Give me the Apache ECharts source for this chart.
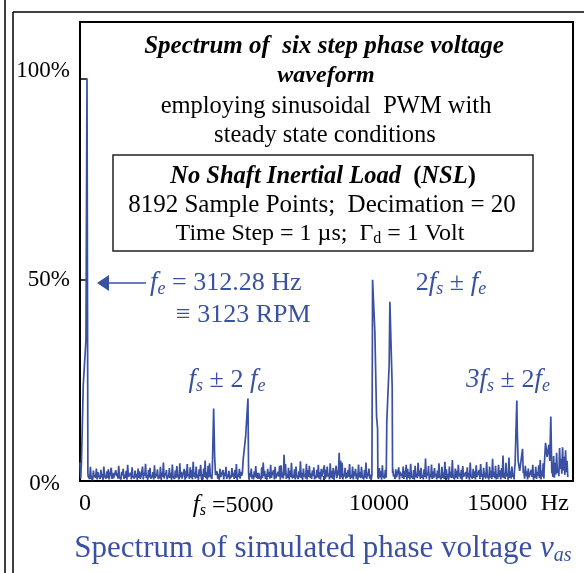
<!DOCTYPE html>
<html>
<head>
<meta charset="utf-8">
<script src="https://cdn.jsdelivr.net/npm/echarts@6/dist/echarts.min.js"></script>
<style>
  html, body { margin: 0; padding: 0; background: #fff; }
  #chart { width: 584px; height: 573px; }
</style>
</head>
<body>
<div id="chart"></div>
<script>
// 频谱数据 (Hz, %)
const NOISE_STEP = 50;
// 噪声峰 (频率 i*50 Hz)
const NOISE = [
  4.6,5.2,3.0,2.5,1.8,2.0,1.2,3.5,0.8,2.6,1.5,3.1,2.2,0.9,2.8,1.7,3.6,1.1,2.4,2.9,
  1.3,3.3,2.0,0.7,2.7,1.9,3.8,1.0,2.3,3.0,1.6,2.5,4.0,1.2,2.1,3.4,0.9,2.6,1.8,3.1,
  2.4,1.1,3.6,2.0,4.3,1.5,2.8,3.3,0.8,2.2,3.9,1.7,2.9,1.3,3.5,2.1,4.6,1.9,2.7,1.4,
  3.2,2.0,4.1,1.2,2.6,3.7,1.6,4.4,2.3,1.0,3.0,2.5,4.2,1.8,3.4,2.7,4.8,2.1,3.6,1.5,
  2.9,4.0,1.7,3.1,5.1,2.2,3.8,4.4,1.5,2.0,3.3,1.0,2.4,1.8,3.0,1.2,2.7,2.1,3.5,1.6,
  2.5,1.4,3.2,2.0,2.8,4.2,1.7,3.0,2.3,3.9,5.0,3.5,1.2,2.6,2.0,3.1,1.5,2.4,3.7,2.0,
  2.0,1.3,3.4,4.6,2.5,1.8,3.0,2.2,4.0,1.6,2.7,3.5,1.1,2.3,3.8,3.9,2.1,6.5,4.2,1.7,
  3.3,2.5,4.5,1.4,2.9,3.6,1.2,2.4,4.9,2.0,3.1,1.6,4.3,2.7,3.8,1.9,2.6,3.4,1.3,2.8,
  4.0,2.2,3.0,1.5,3.9,2.8,3.6,1.8,4.4,2.5,3.2,1.4,3.8,2.6,7.0,5.0,4.5,1.7,3.3,2.1,
  2.8,4.2,1.5,3.6,2.4,3.0,1.9,4.1,2.2,3.5,1.3,2.7,4.6,2.0,3.1,1.6,2.9,3.8,2.4,1.8,
  1.8,3.2,2.4,3.9,1.6,2.8,3.4,1.2,2.1,2.7,3.0,1.6,2.9,1.2,3.4,2.3,1.8,3.6,2.5,4.0,
  3.0,2.2,4.3,1.5,2.7,3.8,1.9,4.5,2.6,3.3,1.4,2.9,5.6,2.0,3.7,1.6,4.1,2.4,3.2,1.8,
  2.6,4.4,1.3,3.5,2.1,4.8,2.9,1.7,3.6,2.3,5.2,1.5,3.1,2.5,4.0,1.9,2.8,3.7,1.4,2.2,
  3.4,2.0,4.6,1.6,3.0,2.4,3.9,1.2,2.7,4.2,1.8,3.3,2.1,4.7,1.5,3.6,2.5,5.5,2.2,3.8,
  1.7,4.0,2.6,3.2,6.3,2.0,4.5,1.9,5.8,2.4,3.6,1.8,2.9,4.1,2.2,3.0,1.6,3.4,2.5,3.8,
  2.4,3.1,1.3,2.8,4.0,1.8,3.5,2.3,3.9,5.2,2.6,4.4,3.0,1.9,3.2,2.2,3.6,2.8,6.2,4.5,
  7.0,3.0,8.2,5.5,8.4,6.0,7.6,5.0
];
// 噪声谷 (频率 i*50+25 Hz)
const NOISE_LOW = [
  0.6,1.2,0.4,0.9,0.3,1.1,0.5,0.8,0.2,1.0,0.7,0.4,1.3,0.5,0.9,0.3,1.1,0.6,0.8,0.4,
  1.0,0.5,0.7,0.3,1.2,0.6,0.9,0.4,1.4,0.5,0.8,0.3,1.0,0.7,0.4,1.1,0.6,0.9,0.3,0.8,
  0.5,1.0,0.4,1.3,0.7,0.3,0.9,0.6,1.1,0.4,0.8,1.2,0.5,0.7,0.3,1.0,0.6,1.4,0.4,0.9,
  0.7,0.3,1.1,0.5,0.8,1.3,0.4,0.9,0.6,1.0,0.3,0.7,1.2,0.5,0.8,0.4,1.1,0.6,0.9,0.3,
  1.2,0.6,0.4,1.0,0.7,0.3,0.9,1.4,0.5,0.8,0.4,1.1,0.6,0.3,1.0,0.7,0.4,1.2,0.5,0.9,
  0.4,0.8,1.1,0.5,0.7,0.3,1.0,0.6,1.3,0.4,0.9,0.5,0.8,0.3,1.1,0.6,0.4,1.0,0.7,0.5,
  0.9,0.4,0.7,1.2,0.5,0.3,1.0,0.6,0.8,1.3,0.4,0.7,0.5,1.1,0.3,0.9,0.6,1.4,0.5,0.8,
  0.3,1.0,0.6,0.8,0.4,1.2,0.5,0.9,0.7,0.3,1.1,0.6,0.4,1.0,0.8,0.5,1.3,0.4,0.7,0.9,
  0.6,0.3,1.1,0.7,0.5,0.9,1.2,0.4,0.8,0.6,0.3,1.0,0.7,1.4,0.5,0.9,0.4,1.1,0.6,0.8,
  1.0,0.5,0.8,0.4,1.3,0.6,0.3,0.9,0.7,1.1,0.4,0.8,0.5,1.2,0.6,0.3,1.0,0.7,0.4,0.9,
  0.5,0.9,0.3,1.2,0.6,0.8,0.4,1.0,0.7,0.3,1.1,0.5,0.9,0.6,0.4,1.3,0.7,0.5,1.0,0.3,
  0.8,0.4,1.1,0.6,0.3,0.9,0.7,1.2,0.5,0.8,0.4,1.0,0.6,1.4,0.3,0.9,0.5,0.7,1.1,0.4,
  0.7,1.0,0.4,0.8,0.5,1.3,0.6,0.3,0.9,0.7,1.1,0.4,0.8,0.5,1.2,0.6,0.3,1.0,0.7,0.5,
  0.9,0.3,1.2,0.6,0.8,0.4,1.0,0.7,0.5,1.1,0.3,0.9,0.6,1.3,0.4,0.8,0.5,1.0,0.7,0.4,
  0.6,1.1,0.4,0.9,0.7,0.5,1.2,0.3,0.8,0.6,1.0,0.4,0.7,1.1,0.5,0.9,0.3,0.8,0.6,1.2,
  0.4,0.9,0.6,1.0,0.3,0.8,0.5,1.2,0.7,0.4,1.1,0.6,0.9,0.5,1.3,0.7,0.4,1.0,0.8,1.6,
  2.0,1.2,3.0,1.8,2.6,1.5,2.2,1.0
];

// 各谐波峰 [频率, 幅值%]
const PEAK_FE = [[50, 5], [110, 24], [200, 35], [235, 100], [265, 2]];
const PEAK_FS_M2FE = [[4440, 2], [4487, 18], [4520, 6], [4550, 1.5]];
const PEAK_FS_P2FE = [[5450, 2], [5480, 5.5], [5560, 11], [5638, 20.5], [5660, 2]];
const PEAK_2FS_MFE = [[9800, 1.5], [9822, 50], [9899, 37], [9956, 16], [9990, 13], [10000, 1]];
const PEAK_2FS_PFE = [[10280, 1.5], [10300, 15], [10379, 29], [10403, 44.5], [10480, 23.5], [10493, 2]];
const PEAK_3FS_M2FE = [[14580, 2], [14607, 4.5], [14664, 20], [14681, 12], [14708, 5], [14760, 2.5], [14856, 8], [14880, 2]];
const PEAK_3FS_P2FE = [[15580, 3], [15628, 9.5], [15680, 6], [15740, 9], [15770, 5], [15805, 16], [15839, 2]];

// 坐标轴刻度
const X_TICKS = [4096, 8192, 12288];
const X_LABEL_POS = [168, 5140, 10034, 14010, 15940];
const X_LABEL_TEXT = ['0', '{i|f}{s|s} =5000', '10000', '15000', 'Hz'];

const BLUE = '#3a50a2';
const SERIF = '"Liberation Serif", "Times New Roman", serif';

// 合并噪声与峰值
function buildSpectrum() {
  const groups = [PEAK_FE, PEAK_FS_M2FE, PEAK_FS_P2FE, PEAK_2FS_MFE, PEAK_2FS_PFE, PEAK_3FS_M2FE, PEAK_3FS_P2FE];
  const pts = [];
  function inPeak(f) {
    return groups.some(function (g) {
      return f >= g[0][0] && f <= g[g.length - 1][0];
    });
  }
  NOISE.forEach(function (v, i) {
    const f = i * NOISE_STEP;
    if (!inPeak(f)) pts.push([f, v]);
  });
  NOISE_LOW.forEach(function (v, i) {
    const f = i * NOISE_STEP + NOISE_STEP / 2;
    if (!inPeak(f)) pts.push([f, v]);
  });
  groups.forEach(function (g) { g.forEach(function (p) { pts.push(p); }); });
  pts.sort(function (a, b) { return a[0] - b[0]; });
  return pts;
}

const chart = echarts.init(document.getElementById('chart'));

function txt(text, x, y, size, opts) {
  opts = opts || {};
  return {
    type: 'text', x: x, y: y, z: 100,
    style: Object.assign({
      text: text,
      fontFamily: SERIF,
      fontSize: size,
      fill: '#000',
      align: 'center',
      verticalAlign: 'middle'
    }, opts)
  };
}

const richBlue = {
  i: { fontStyle: 'italic', fontFamily: SERIF, fontSize: 27, fill: BLUE },
  s: { fontStyle: 'italic', fontFamily: SERIF, fontSize: 18, fill: BLUE, padding: [13, 0, 0, 0] },
  n: { fontFamily: SERIF, fontSize: 26, fill: BLUE }
};

const option = {
  animation: false,
  grid: {
    left: 80, top: 22, right: 11, bottom: 92,
    show: true, borderColor: '#000', borderWidth: 2
  },
  xAxis: {
    type: 'value',
    min: 0, max: 16550,
    axisLine: { show: true, onZero: false, lineStyle: { color: '#000', width: 2 } },
    axisTick: { show: true, inside: true, length: 5, customValues: X_TICKS, lineStyle: { color: '#000', width: 1.5 } },
    splitLine: { show: false },
    axisLabel: {
      customValues: X_LABEL_POS,
      margin: 11,
      color: '#000',
      fontFamily: SERIF,
      fontSize: 24,
      formatter: function (v) {
        const idx = X_LABEL_POS.indexOf(v);
        return idx >= 0 ? X_LABEL_TEXT[idx] : '';
      },
      rich: {
        i: { fontStyle: 'italic', fontFamily: SERIF, fontSize: 25, color: '#000' },
        s: { fontStyle: 'italic', fontFamily: SERIF, fontSize: 16, color: '#000', padding: [11, 0, 0, 0] }
      }
    }
  },
  yAxis: {
    type: 'value',
    min: 0, max: 114, interval: 50,
    axisLine: { show: true, lineStyle: { color: '#000', width: 2 } },
    axisTick: { show: true, inside: true, length: 7, lineStyle: { color: '#000', width: 1.5 } },
    splitLine: { show: false },
    axisLabel: {
      margin: 10,
      showMaxLabel: false,
      color: '#000',
      fontFamily: SERIF,
      fontSize: 23,
      formatter: function (v) {
        if (v === 0) return '{z|0%}';
        if (v === 100) return '{h|100%}';
        if (v === 50) return '50%';
        return '';
      },
      rich: {
        z: { fontFamily: SERIF, fontSize: 23, color: '#000', padding: [6, 10, 0, 0] },
        h: { fontFamily: SERIF, fontSize: 23, color: '#000', padding: [0, 0, 14, 0] }
      }
    }
  },
  series: [{
    type: 'line',
    data: buildSpectrum(),
    showSymbol: false,
    clip: false,
    lineStyle: { color: BLUE, width: 1.7 }
  }],
  graphic: [
    // 外框
    { type: 'line', shape: { x1: 5, y1: 0, x2: 5, y2: 573 }, style: { stroke: '#000', lineWidth: 1.5 } },
    { type: 'line', shape: { x1: 13, y1: 12, x2: 13, y2: 573 }, style: { stroke: '#000', lineWidth: 1.5 } },
    { type: 'line', shape: { x1: 13, y1: 12, x2: 584, y2: 12 }, style: { stroke: '#000', lineWidth: 1.5 } },
    // 标题
    txt('Spectrum of  six step phase voltage', 324, 47, 25, { fontWeight: 'bold', fontStyle: 'italic' }),
    txt('waveform', 326, 76, 24, { fontWeight: 'bold', fontStyle: 'italic' }),
    txt('employing sinusoidal  PWM with', 326, 107, 24.5),
    txt('steady state conditions', 325, 136, 24.5),
    // 参数框
    { type: 'rect', shape: { x: 113, y: 155, width: 420, height: 96 }, style: { fill: '#fff', stroke: '#222', lineWidth: 1.5 }, z: 90 },
    txt('{b|No Shaft Inertial Load  }{p|(}{b|NSL}{p|)}', 323, 177, 24, {
      rich: {
        b: { fontFamily: SERIF, fontSize: 24.5, fontWeight: 'bold', fontStyle: 'italic' },
        p: { fontFamily: SERIF, fontSize: 24.5, fontWeight: 'bold' }
      }
    }),
    txt('8192 Sample Points;  Decimation = 20', 322, 205, 25),
    txt('{n|Time Step = 1 \u00b5s;  \u0393}{d|d}{n| = 1 Volt}', 320, 234, 24, {
      rich: {
        n: { fontFamily: SERIF, fontSize: 24 },
        d: { fontFamily: SERIF, fontSize: 16, padding: [10, 0, 0, 0] }
      }
    }),
    // 箭头
    { type: 'line', shape: { x1: 106, y1: 283, x2: 146, y2: 283 }, style: { stroke: BLUE, lineWidth: 1.5 }, z: 100 },
    { type: 'polygon', shape: { points: [[97, 283], [109, 275], [109, 291]] }, style: { fill: BLUE }, z: 100 },
    // 标注
    txt('{i|f}{s|e}{n| = 312.28 Hz}', 150, 283, 26, { align: 'left', rich: richBlue }),
    txt('{n|\u2261 3123 RPM}', 176, 315, 26, { align: 'left', rich: richBlue }),
    txt('{i|f}{s|s}{n| \u00b1 2 }{i|f}{s|e}', 227, 380, 26, { rich: richBlue }),
    txt('{n|2}{i|f}{s|s}{n| \u00b1 }{i|f}{s|e}', 451, 283, 26, { rich: richBlue }),
    txt('{i|3f}{s|s}{n| \u00b1 2}{i|f}{s|e}', 508, 380, 26, { rich: richBlue }),
    // 图注
    txt('{n|Spectrum of simulated phase voltage }{v|v}{a|as}', 323, 549, 31, {
      rich: {
        n: { fontFamily: SERIF, fontSize: 31, fill: BLUE },
        v: { fontFamily: SERIF, fontSize: 31, fontStyle: 'italic', fill: BLUE },
        a: { fontFamily: SERIF, fontSize: 20, fontStyle: 'italic', fill: BLUE, padding: [13, 0, 0, 0] }
      }
    })
  ]
};

chart.setOption(option);
</script>
</body>
</html>
